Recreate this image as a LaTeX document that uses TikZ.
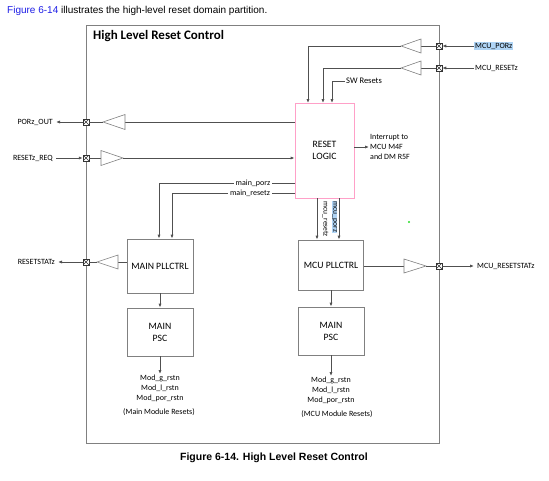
\documentclass[tikz,border=0pt]{standalone}
\usepackage{fontspec}
\setmainfont{Carlito}
\newfontfamily\arialfont{Liberation Sans}
\usetikzlibrary{arrows.meta,calc}
\definecolor{linegray}{RGB}{80,80,80}
\definecolor{boxgray}{RGB}{128,128,128}
\definecolor{pinkb}{RGB}{255,160,200}
\definecolor{selblue}{RGB}{175,212,245}
\definecolor{linkblue}{RGB}{30,30,230}
\definecolor{dotgreen}{RGB}{40,220,40}
\begin{document}
\begin{tikzpicture}[x=1pt,y=-1pt,
  wire/.style={draw=linegray, line width=0.8pt},
  arr/.style={wire, -{Latex[length=4pt,width=3.2pt]}},
  pad/.style={draw=black!80, fill=white, line width=0.5pt, minimum size=6pt, inner sep=0pt,
    path picture={\draw[line width=0.4pt] (path picture bounding box.north west)--(path picture bounding box.south east) (path picture bounding box.north east)--(path picture bounding box.south west);}},
  buf/.style={draw=boxgray, fill=white, line width=0.6pt},
  blk/.style={draw=boxgray, line width=0.8pt, align=center, font=\fontsize{9.7}{11}\selectfont, inner sep=0pt},
  lbl/.style={font=\fontsize{8}{9.8}\selectfont, inner sep=1pt},
]
\useasboundingbox (0,0) rectangle (549,480);

\node[anchor=west, font=\arialfont\fontsize{10}{12}\selectfont, inner sep=0pt] (intro) at (7,11) {\textcolor{linkblue}{Figure 6-14} illustrates the high-level reset domain partition.};

\node[draw=boxgray, line width=1.2pt, minimum width=353pt, minimum height=418pt, anchor=north west, inner sep=0pt] (outer) at (86,25) {};
\node[anchor=west, font=\bfseries\fontsize{13}{15}\selectfont, inner sep=0pt] (title) at (93,36) {High Level Reset Control};

% pads
\node[pad] (pPor) at (439,46) {};
\node[pad] (pRst) at (439,68) {};
\node[pad] (pStat) at (439,266) {};
\node[pad] (pOut) at (86,122) {};
\node[pad] (pReq) at (86,158) {};
\node[pad] (pRS) at (86,262) {};

% blocks
\node[blk, draw=pinkb, minimum width=59pt, minimum height=95pt] (rl) at (324.5,150.5) {RESET\\[1pt]LOGIC};
\node[blk, minimum width=66pt, minimum height=54pt] (mpll) at (160,266) {MAIN PLLCTRL};
\node[blk, minimum width=65pt, minimum height=50pt] (upll) at (331,265) {MCU PLLCTRL};
\node[blk, minimum width=66pt, minimum height=48pt] (mpsc) at (160,332) {MAIN\\[1pt]PSC};
\node[blk, minimum width=66pt, minimum height=48pt] (upsc) at (331,331) {MAIN\\[1pt]PSC};

% coordinates
\coordinate (in1) at (308,103);
\coordinate (in2) at (323,103);
\coordinate (in3) at (332,103);
\coordinate (b1tip) at (401,46); \coordinate (b1base) at (421,46);
\coordinate (b2tip) at (401,68); \coordinate (b2base) at (421,68);
\coordinate (b3tip) at (103,122); \coordinate (b3base) at (125,122);
\coordinate (b4base) at (101,158); \coordinate (b4tip) at (123,158);
\coordinate (b5tip) at (97,262); \coordinate (b5base) at (118,262);
\coordinate (b6base) at (404,266); \coordinate (b6tip) at (426,266);

% MCU_PORz
\node[lbl, anchor=west, fill=selblue] (lPor) at (474,46) {MCU\_PORz};
\draw[arr] (lPor.west) -- (pPor.east);
\draw[wire] (pPor.west) -- (b1base);
\draw[buf] (b1tip) -- (421,39) -- (421,53) -- cycle;
\draw[arr] (b1tip) -| (in1);

% MCU_RESETz
\node[lbl, anchor=west] (lRst) at (474,68) {MCU\_RESETz};
\draw[arr] (lRst.west) -- (pRst.east);
\draw[wire] (pRst.west) -- (b2base);
\draw[buf] (b2tip) -- (421,61) -- (421,75) -- cycle;
\draw[arr] (b2tip) -| (in2);

% SW resets
\node[lbl, anchor=west, font=\fontsize{8.5}{10}\selectfont] (lsw) at (345,81) {SW Resets};
\draw[arr] (lsw.west) -| (in3);

% PORz_OUT
\node[lbl, anchor=east] (lOut) at (54,122) {PORz\_OUT};
\draw[wire] (rl.west |- pOut) -- (b3base);
\draw[buf] (b3tip) -- (125,114.5) -- (125,129.5) -- cycle;
\draw[wire] (b3tip) -- (pOut.east);
\draw[arr] (pOut.west) -- ([xshift=2pt]lOut.east);

% RESETz_REQ
\node[lbl, anchor=east] (lReq) at (54,158) {RESETz\_REQ};
\draw[arr] ([xshift=2pt]lReq.east) -- (pReq.west);
\draw[wire] (pReq.east) -- (b4base);
\draw[buf] (b4tip) -- (101,150.5) -- (101,165.5) -- cycle;
\draw[arr] (b4tip) -- (rl.west |- pReq);

% interrupt
\node[lbl, anchor=west, align=left] (intr) at (369,147) {Interrupt to\\MCU M4F\\and DM R5F};
\draw[arr] (rl.east |- intr.west) -- (intr.west);

% main_porz / main_resetz
\coordinate (c1) at (159,183);
\coordinate (c2) at (172,193);
\draw[arr] (rl.west |- c1) -- (c1) -- (c1 |- mpll.north);
\draw[arr] (rl.west |- c2) -- (c2) -- (c2 |- mpll.north);
\node[lbl, fill=white, inner xsep=2pt] (lmp) at (253,183) {main\_porz};
\node[lbl, fill=white, inner xsep=2pt] (lmr) at (250,193) {main\_resetz};

% mcu_porz / mcu_resetz
\coordinate (c3) at (317,0);
\coordinate (c4) at (339,0);
\draw[arr] (c3 |- rl.south) -- (c3 |- upll.north);
\draw[arr] (c4 |- rl.south) -- (c4 |- upll.north);
\node[lbl, rotate=-90, anchor=west, inner sep=0.5pt, font=\fontsize{7.5}{9}\selectfont] (lur) at (325.5,201) {mcu\_resetz};
\node[lbl, rotate=-90, anchor=west, inner sep=0.5pt, fill=selblue, font=\fontsize{7.5}{9}\selectfont] (lup) at (334.5,201) {mcu\_porz};

% RESETSTATz
\node[lbl, anchor=east, font=\fontsize{8}{9}\selectfont] (lRS) at (56,262) {RESETSTATz};
\draw[wire] (mpll.west |- pRS) -- (b5base);
\draw[buf] (b5tip) -- (118,255) -- (118,269) -- cycle;
\draw[wire] (b5tip) -- (pRS.east);
\draw[arr] (pRS.west) -- ([xshift=2pt]lRS.east);

% MCU_RESETSTATz
\node[lbl, anchor=west, font=\fontsize{8}{9}\selectfont] (lStat) at (476,266) {MCU\_RESETSTATz};
\draw[wire] (upll.east |- pStat) -- (b6base);
\draw[buf] (b6tip) -- (404,259) -- (404,273) -- cycle;
\draw[wire] (b6tip) -- (pStat.west);
\draw[arr] (pStat.east) -- ([xshift=-2pt]lStat.west);

% PLLCTRL -> PSC
\draw[arr] (mpll.south) -- (mpsc.north);
\draw[arr] (upll.south) -- (upsc.north);

% module resets
\node[lbl, align=center, anchor=north] (mmod) at (160,374) {Mod\_g\_rstn\\Mod\_l\_rstn\\Mod\_por\_rstn};
\node[lbl] (mres) at (159,412) {(Main Module Resets)};
\node[lbl, align=center, anchor=north] (umod) at (331,376) {Mod\_g\_rstn\\Mod\_l\_rstn\\Mod\_por\_rstn};
\node[lbl] (ures) at (337,414) {(MCU Module Resets)};
\draw[arr] (mpsc.south) -- (mmod.north);
\draw[arr] (upsc.south) -- (umod.north);

% stray dot
\fill[dotgreen] (409,222) circle (1.2);

% caption
\node[font=\arialfont\bfseries\fontsize{10.5}{12}\selectfont, inner sep=0pt] (cap) at (274,458) {Figure 6-14. High Level Reset Control};
\end{tikzpicture}
\end{document}
